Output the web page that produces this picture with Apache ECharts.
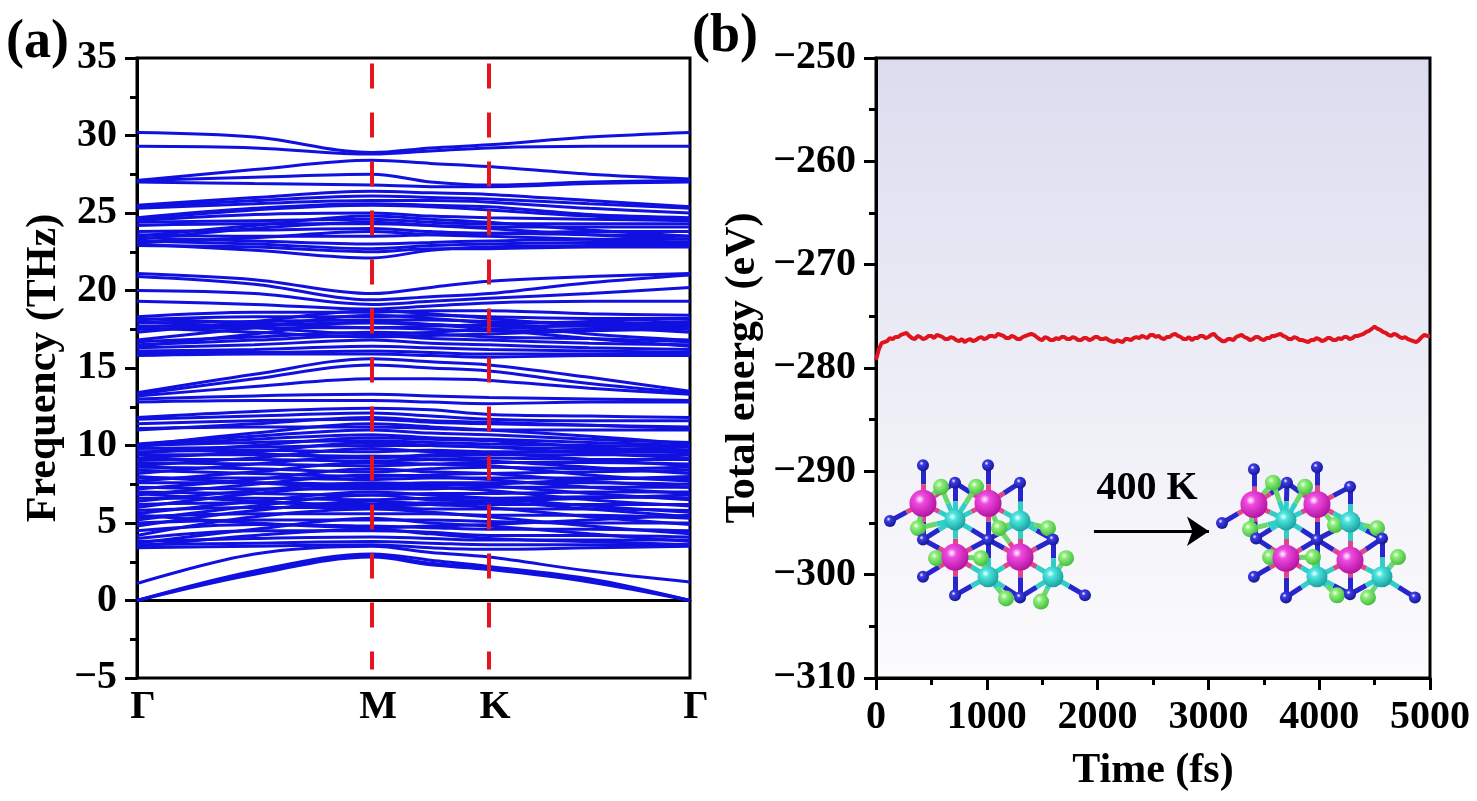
<!DOCTYPE html>
<html>
<head>
<meta charset="utf-8">
<script src="https://cdn.jsdelivr.net/npm/echarts@6/dist/echarts.min.js"></script>
<style>
html, body { margin: 0; padding: 0; background: #fff; }
#main { width: 1477px; height: 801px; }
</style>
</head>
<body>
<div id="main"></div>
<script>
// ---- panel (a): phonon bands ----
var kLabels = ['Γ', 'M', 'K', 'Γ'];
var kPos = [0, 0.425, 0.6365, 1];
// k points where every band is sampled: Γ, ½ΓM, M, ½MK, K, ½KΓ, Γ
var kSample = [0, 0.2125, 0.425, 0.531, 0.6365, 0.818, 1];
var bands = [
  [30.2, 29.9, 28.9, 29.2, 29.4, 29.9, 30.2],
  [29.3, 29.2, 28.8, 29.0, 29.2, 29.3, 29.3],
  [27.1, 27.8, 28.4, 28.2, 28.0, 27.5, 27.2],
  [27.1, 27.3, 27.5, 27.0, 26.8, 27.0, 27.1],
  [27.0, 26.9, 26.8, 26.7, 26.7, 26.9, 27.0],
  [25.5, 26.0, 26.4, 26.3, 26.2, 25.8, 25.4],
  [25.4, 25.8, 26.1, 26.0, 25.9, 25.6, 25.3],
  [25.3, 25.6, 25.8, 25.8, 25.7, 25.3, 25.0],
  [24.7, 25.3, 25.6, 25.5, 25.4, 24.9, 24.7],
  [24.6, 25.2, 25.5, 25.4, 25.2, 24.8, 24.6],
  [24.5, 24.9, 25.0, 24.8, 24.7, 24.6, 24.5],
  [24.4, 24.5, 24.6, 24.4, 24.3, 24.3, 24.3],
  [24.2, 24.3, 24.3, 24.2, 24.1, 24.1, 24.1],
  [23.5, 24.2, 24.8, 24.6, 24.4, 23.9, 23.5],
  [23.3, 24.0, 24.4, 24.2, 24.0, 23.6, 23.3],
  [23.8, 23.9, 24.0, 23.8, 23.7, 23.8, 23.8],
  [23.6, 23.5, 23.5, 23.6, 23.7, 23.6, 23.5],
  [23.1, 23.4, 23.8, 23.6, 23.5, 23.3, 23.1],
  [23.4, 23.2, 23.0, 23.1, 23.2, 23.3, 23.3],
  [23.2, 23.0, 22.7, 22.9, 23.0, 23.1, 23.1],
  [23.0, 22.6, 22.1, 22.6, 22.8, 22.9, 22.9],
  [22.9, 22.8, 22.5, 22.7, 22.7, 22.8, 22.8],
  [21.1, 20.7, 19.8, 20.2, 20.6, 20.9, 21.1],
  [20.9, 20.4, 19.4, 19.6, 19.8, 20.5, 21.0],
  [20.0, 19.8, 19.1, 19.3, 19.5, 19.8, 20.2],
  [19.3, 19.1, 18.8, 19.0, 19.2, 19.3, 19.3],
  [18.3, 18.6, 18.6, 18.7, 18.7, 18.5, 18.4],
  [18.2, 17.9, 17.6, 17.7, 17.8, 18.0, 18.2],
  [18.1, 18.3, 18.3, 18.4, 18.3, 18.2, 18.2],
  [18.0, 17.6, 17.2, 17.3, 17.5, 17.8, 18.0],
  [17.9, 18.0, 18.1, 18.1, 18.0, 17.9, 17.8],
  [17.7, 17.8, 17.9, 17.8, 17.7, 17.7, 17.7],
  [17.6, 17.3, 17.0, 17.1, 17.2, 17.4, 17.5],
  [17.5, 17.6, 17.6, 17.5, 17.4, 17.5, 17.6],
  [17.3, 18.0, 18.7, 18.5, 18.2, 17.7, 17.3],
  [16.8, 17.6, 18.4, 18.2, 17.9, 17.2, 16.8],
  [16.4, 17.2, 18.0, 17.8, 17.5, 16.9, 16.4],
  [16.7, 17.0, 17.3, 17.2, 17.0, 16.9, 16.7],
  [16.5, 16.8, 17.1, 16.9, 16.8, 16.6, 16.5],
  [16.3, 16.5, 16.8, 16.6, 16.5, 16.3, 16.2],
  [16.1, 16.2, 16.4, 16.3, 16.2, 16.1, 16.0],
  [16.0, 16.0, 16.1, 16.0, 15.9, 15.9, 15.9],
  [15.8, 15.9, 15.9, 15.8, 15.7, 15.8, 15.8],
  [13.4, 14.6, 15.6, 15.4, 15.2, 14.4, 13.5],
  [13.3, 14.3, 15.2, 15.0, 14.8, 14.0, 13.4],
  [13.2, 13.8, 14.3, 14.3, 14.2, 13.7, 13.3],
  [13.0, 13.2, 13.3, 13.2, 13.1, 13.0, 12.9],
  [12.8, 12.9, 12.9, 12.8, 12.7, 12.8, 12.8],
  [11.8, 12.2, 12.4, 12.3, 12.0, 11.9, 11.8],
  [11.7, 11.9, 12.1, 11.9, 11.7, 11.6, 11.6],
  [11.4, 11.6, 11.7, 11.5, 11.4, 11.3, 11.2],
  [11.1, 11.2, 11.2, 11.1, 11.0, 11.0, 11.0],
  [11.0, 11.4, 11.8, 11.6, 11.5, 11.3, 11.1],
  [10.1, 10.6, 11.0, 10.8, 10.7, 10.4, 10.2],
  [10.0, 10.8, 11.4, 11.2, 11.0, 10.6, 10.1],
  [10.0, 10.4, 10.7, 10.5, 10.4, 10.2, 10.0],
  [10.0, 10.2, 10.3, 10.2, 10.1, 10.0, 9.9],
  [9.9, 9.5, 9.2, 9.4, 9.5, 9.7, 9.9],
  [9.8, 9.9, 10.0, 10.0, 9.9, 9.8, 9.7],
  [9.6, 9.7, 9.6, 9.7, 9.6, 9.6, 9.6],
  [9.5, 10.0, 10.5, 10.4, 10.3, 9.9, 9.5],
  [9.4, 9.4, 9.3, 9.3, 9.4, 9.4, 9.4],
  [9.2, 9.6, 10.2, 10.0, 9.9, 9.5, 9.2],
  [9.1, 9.1, 9.0, 9.1, 9.2, 9.1, 9.1],
  [8.9, 8.8, 8.7, 8.8, 8.9, 8.9, 8.8],
  [8.7, 9.2, 9.8, 9.6, 9.5, 9.1, 8.7],
  [8.6, 8.5, 8.3, 8.5, 8.6, 8.5, 8.6],
  [8.4, 8.2, 8.0, 8.1, 8.2, 8.3, 8.4],
  [8.2, 8.8, 9.3, 9.1, 9.0, 8.6, 8.2],
  [8.0, 7.6, 7.3, 7.4, 7.5, 7.8, 8.0],
  [7.9, 7.9, 7.8, 7.9, 7.9, 7.9, 7.8],
  [7.7, 8.3, 8.9, 8.8, 8.7, 8.1, 7.7],
  [7.6, 7.6, 7.5, 7.6, 7.6, 7.6, 7.5],
  [7.3, 7.2, 7.2, 7.2, 7.3, 7.3, 7.3],
  [7.2, 7.8, 8.5, 8.3, 8.2, 7.7, 7.3],
  [7.0, 6.9, 6.8, 6.9, 6.9, 7.0, 7.0],
  [6.9, 6.4, 6.1, 6.2, 6.4, 6.6, 6.8],
  [6.8, 7.5, 8.1, 8.0, 7.8, 7.3, 6.9],
  [6.6, 6.6, 6.5, 6.6, 6.6, 6.7, 6.6],
  [6.4, 7.1, 7.6, 7.5, 7.4, 6.9, 6.5],
  [6.2, 6.3, 6.2, 6.3, 6.2, 6.2, 6.2],
  [6.0, 6.9, 7.4, 7.3, 7.1, 6.5, 6.1],
  [5.8, 6.0, 6.0, 5.9, 5.9, 5.9, 5.8],
  [5.6, 6.4, 7.0, 6.8, 6.6, 6.1, 5.7],
  [5.5, 5.0, 4.7, 4.8, 4.9, 5.2, 5.5],
  [5.4, 5.6, 5.6, 5.6, 5.5, 5.5, 5.3],
  [5.2, 6.1, 6.8, 6.5, 6.4, 5.9, 5.4],
  [5.0, 5.2, 5.2, 5.2, 5.1, 5.0, 5.0],
  [4.8, 5.8, 6.4, 6.2, 6.0, 5.4, 4.9],
  [4.5, 4.9, 4.8, 4.7, 4.6, 4.6, 4.5],
  [4.2, 5.4, 5.9, 5.7, 5.4, 4.8, 4.3],
  [4.0, 4.5, 4.5, 4.4, 4.2, 4.2, 4.1],
  [3.8, 4.0, 4.1, 4.0, 3.9, 3.9, 3.9],
  [3.7, 4.6, 5.3, 5.0, 4.8, 4.3, 3.8],
  [3.6, 3.7, 3.8, 3.7, 3.6, 3.6, 3.6],
  [3.5, 4.2, 4.6, 4.3, 4.0, 3.8, 3.6],
  [3.4, 3.5, 3.6, 3.4, 3.3, 3.4, 3.5],
  [1.1, 3.0, 3.5, 3.1, 2.8, 1.9, 1.2],
  [0.0, 1.9, 3.0, 2.6, 2.2, 1.4, 0.0],
  [0.0, 1.8, 2.9, 2.4, 2.1, 1.3, 0.0],
  [0.0, 1.7, 2.8, 2.3, 2.0, 1.2, 0.0]
];

// ---- panel (b): AIMD total energy ----
var timeStep = 25; // fs between samples
var energy = [
  -279.2, -278.2, -277.6, -277.5, -277.4, -277.1, -277.2, -277.0, -277.0, -276.8,
  -276.7, -276.6, -276.9, -277.1, -277.2, -276.9, -277.0, -277.2, -277.1, -276.9,
  -276.9, -277.1, -276.8, -276.9, -277.0, -277.2, -277.2, -277.0, -277.1, -277.3,
  -277.4, -277.2, -277.5, -277.3, -277.2, -277.4, -277.3, -277.1, -277.0, -277.2,
  -277.1, -276.9, -276.9, -277.0, -276.7, -276.8, -276.9, -277.1, -277.1, -276.9,
  -277.0, -277.2, -277.2, -277.0, -276.9, -276.8, -276.7, -276.8, -277.0, -277.2,
  -277.3, -277.0, -277.1, -277.3, -277.3, -277.1, -277.2, -277.0, -277.0, -277.2,
  -277.2, -277.0, -277.1, -277.3, -277.3, -277.1, -277.1, -277.3, -277.2, -277.0,
  -277.0, -277.2, -277.2, -277.1, -277.3, -277.4, -277.5, -277.3, -277.4, -277.5,
  -277.2, -277.2, -277.3, -277.1, -277.0, -277.1, -276.9, -277.0, -277.1, -276.8,
  -276.8, -277.0, -276.9, -277.1, -277.2, -277.0, -277.0, -276.8, -276.7, -276.9,
  -277.0, -277.2, -277.2, -277.0, -277.3, -277.1, -277.1, -276.9, -276.9, -277.1,
  -277.0, -276.8, -276.7, -277.0, -277.2, -277.4, -277.4, -277.2, -277.2, -277.3,
  -277.0, -276.9, -276.8, -277.0, -277.1, -277.3, -277.2, -277.0, -277.0, -277.2,
  -277.3, -277.1, -277.1, -276.9, -276.9, -276.8, -276.7, -276.9, -277.0, -277.2,
  -277.2, -277.0, -277.1, -277.3, -277.3, -277.4, -277.5, -277.3, -277.3, -277.1,
  -277.2, -277.4, -277.3, -277.1, -277.1, -277.3, -277.3, -277.1, -277.2, -277.0,
  -277.0, -277.2, -277.1, -276.9, -276.9, -276.8, -276.7, -276.5, -276.4, -276.2,
  -276.0, -276.2, -276.3, -276.5, -276.6, -276.8, -276.9, -276.7, -276.8, -277.0,
  -277.1, -277.0, -277.2, -277.3, -277.4, -277.5, -277.3, -277.0, -276.8, -276.9,
  -276.9
];

// inset structures, atom positions in (fs, eV) of panel (b)
var atomsN = [
  [424, -289.4], [1011, -289.4], [713, -291.1], [1300, -291.1], [126, -294.8], [424, -296.6],
  [1011, -296.6], [1597, -296.6], [424, -300.2], [713, -302.0], [1300, -302.2], [1886, -302.0],
  [3411, -289.8], [3980, -289.6], [3709, -291.1], [4278, -291.5], [3123, -295.0], [3430, -296.5],
  [3980, -296.6], [4567, -296.5], [3411, -300.2], [3700, -302.2], [4278, -301.9], [4864, -302.2]
];
var atomsTi = [
  [424, -293.1], [1011, -293.1], [713, -298.3], [1300, -298.3],
  [3411, -293.2], [3980, -293.2], [3700, -298.4], [4278, -298.6]
];
var atomsX = [
  [713, -294.7], [1300, -294.8], [1011, -300.2], [1597, -300.2],
  [3700, -294.7], [4278, -294.9], [3980, -300.2], [4567, -300.2]
];
var atomsCl = [
  [587, -291.5], [903, -291.5], [379, -295.5], [1110, -295.5], [1552, -295.5],
  [542, -298.4], [948, -298.4], [1715, -298.4], [1173, -302.3], [1489, -302.6],
  [3583, -291.1], [3872, -291.5], [3375, -295.6], [4142, -295.2], [4522, -295.5],
  [3556, -298.3], [3944, -298.3], [4711, -298.3], [4161, -302.0], [4440, -302.2]
];
var arrowFrom = [1967, -295.8];
var arrowTo = [3005, -295.8];
var tempLabel = [2446, -291.7];

var font = 'Liberation Serif';
var black = '#000';
function minus(v) { return String(v).replace('-', '\u2212'); }

var chart = echarts.init(document.getElementById('main'));

var series = [];
bands.forEach(function (b) {
  series.push({
    type: 'line', xAxisIndex: 0, yAxisIndex: 0,
    data: b.map(function (f, i) { return [kSample[i], f]; }),
    smooth: 0.35, symbol: 'none', silent: true,
    lineStyle: { color: '#1010e0', width: 3 }, z: 2
  });
});
// dashed guides at M and K
[kPos[1], kPos[2]].forEach(function (k) {
  series.push({
    type: 'line', xAxisIndex: 0, yAxisIndex: 0,
    data: [[k, 34.65], [k, -4.45]], symbol: 'none', silent: true,
    lineStyle: { color: '#e5141e', width: 4, type: [25, 24] }, z: 5
  });
});

// energy trace
series.push({
  type: 'line', xAxisIndex: 1, yAxisIndex: 1,
  data: energy.map(function (e, i) { return [i * timeStep, e]; }),
  symbol: 'none', silent: true,
  lineStyle: { color: '#e0141c', width: 4 }, z: 3
});

// bonds between neighbouring atoms (half coloured by each end)
var pxPerFs = 554 / 5000, pxPerEv = 620 / 60;
var kinds = [
  { k: 'N', list: atomsN, bond: '#2626cc' },
  { k: 'T', list: atomsTi, bond: '#e0458a' },
  { k: 'X', list: atomsX, bond: '#30cfc6' },
  { k: 'C', list: atomsCl, bond: '#6ad86a' }
];
var cut = { NT: 42, NX: 42, TX: 42, CX: 40, CT: 36 };
var all = [];
kinds.forEach(function (g) { g.list.forEach(function (p) { all.push({ p: p, k: g.k, c: g.bond }); }); });
var bondData = [];
for (var i = 0; i < all.length; i++) {
  for (var j = i + 1; j < all.length; j++) {
    var a = all[i], b = all[j];
    var lim = cut[a.k + b.k] || cut[b.k + a.k];
    if (!lim) continue;
    var d = Math.hypot((a.p[0] - b.p[0]) * pxPerFs, (a.p[1] - b.p[1]) * pxPerEv);
    if (d > lim) continue;
    var mid = [(a.p[0] + b.p[0]) / 2, (a.p[1] + b.p[1]) / 2];
    bondData.push({ coords: [a.p, mid], lineStyle: { color: a.c } });
    bondData.push({ coords: [mid, b.p], lineStyle: { color: b.c } });
  }
}
series.push({
  type: 'lines', coordinateSystem: 'cartesian2d', xAxisIndex: 1, yAxisIndex: 1,
  data: bondData, silent: true, lineStyle: { width: 5, opacity: 1 }, z: 6
});

function ball(c1, c2) {
  return { type: 'radial', x: 0.38, y: 0.35, r: 0.7,
    colorStops: [{ offset: 0, color: '#ffffff' }, { offset: 0.25, color: c1 }, { offset: 1, color: c2 }] };
}
[
  [atomsCl, 16, ball('#8ef07a', '#3fb83a')],
  [atomsTi, 27, ball('#f04ae0', '#b0109e')],
  [atomsX, 21, ball('#4de6e0', '#179c9a')],
  [atomsN, 12, ball('#3c3ce6', '#14148c')]
].forEach(function (s, idx) {
  series.push({
    type: 'scatter', xAxisIndex: 1, yAxisIndex: 1, data: s[0], symbolSize: s[1],
    silent: true, itemStyle: { color: s[2], opacity: 1 }, z: 7 + idx
  });
});

// heating arrow and label
series.push({
  type: 'lines', coordinateSystem: 'cartesian2d', xAxisIndex: 1, yAxisIndex: 1,
  data: [{ coords: [arrowFrom, arrowTo] }], silent: true,
  symbol: ['none', 'arrow'], symbolSize: 22,
  lineStyle: { color: black, width: 3, opacity: 1 }, z: 12
});
series.push({
  type: 'scatter', xAxisIndex: 1, yAxisIndex: 1, data: [tempLabel], symbolSize: 0,
  silent: true, z: 12, itemStyle: { opacity: 1 },
  label: { show: true, position: 'inside', formatter: '400 K', color: black,
    textBorderWidth: 0, fontFamily: font, fontWeight: 'bold', fontSize: 40 }
});

var tickStyle = { color: black, width: 3 };
var labelStyle = { color: black, fontFamily: font, fontWeight: 'bold', fontSize: 40 };
var nameStyle = { color: black, fontFamily: font, fontWeight: 'bold', fontSize: 42 };

var option = {
  animation: false,
  backgroundColor: '#fff',
  grid: [
    { left: 137, top: 58, width: 553, height: 620, show: true,
      borderColor: black, borderWidth: 3, backgroundColor: '#fff' },
    { left: 876, top: 58, width: 554, height: 620, show: true,
      borderColor: black, borderWidth: 3,
      backgroundColor: new echarts.graphic.LinearGradient(0, 0, 0, 1, [
        { offset: 0, color: '#dcdcf0' },
        { offset: 0.55, color: '#eeeef6' },
        { offset: 1, color: '#fcfcfe' }
      ]) }
  ],
  xAxis: [
    { gridIndex: 0, type: 'value', min: 0, max: 1,
      axisLine: { lineStyle: tickStyle }, axisTick: { show: false },
      splitLine: { show: false },
      axisLabel: Object.assign({ customValues: kPos, margin: 10, padding: [0, 0, 0, 12],
        formatter: function (v) { return kLabels[kPos.indexOf(v)] || ''; } }, labelStyle) },
    { gridIndex: 1, type: 'value', min: 0, max: 5000, interval: 1000,
      axisLine: { lineStyle: tickStyle },
      axisTick: { length: 12, lineStyle: tickStyle },
      minorTick: { show: true, splitNumber: 2, length: 7, lineStyle: tickStyle },
      splitLine: { show: false },
      axisLabel: Object.assign({ margin: 20, formatter: function (v) { return String(v); } }, labelStyle),
      name: 'Time (fs)', nameLocation: 'middle', nameGap: 72, nameTextStyle: nameStyle }
  ],
  yAxis: [
    { gridIndex: 0, type: 'value', min: -5, max: 35, interval: 5,
      axisLine: { show: true, lineStyle: tickStyle },
      axisTick: { show: true, length: 12, lineStyle: tickStyle },
      minorTick: { show: true, splitNumber: 2, length: 7, lineStyle: tickStyle },
      splitLine: { show: false },
      axisLabel: Object.assign({ margin: 20, formatter: minus }, labelStyle),
      name: 'Frequency (THz)', nameLocation: 'middle', nameGap: 72, nameTextStyle: nameStyle },
    { gridIndex: 1, type: 'value', min: -310, max: -250, interval: 10,
      axisLine: { show: true, lineStyle: tickStyle },
      axisTick: { show: true, length: 12, lineStyle: tickStyle },
      minorTick: { show: true, splitNumber: 2, length: 7, lineStyle: tickStyle },
      splitLine: { show: false },
      axisLabel: Object.assign({ margin: 20, formatter: minus }, labelStyle),
      name: 'Total energy (eV)', nameLocation: 'middle', nameGap: 112, nameTextStyle: nameStyle }
  ],
  graphic: [
    { type: 'text', left: 6, top: 16, style: { text: '(a)', fill: black,
      font: 'bold 54px "Liberation Serif"' } },
    { type: 'text', left: 692, top: 10, style: { text: '(b)', fill: black,
      font: 'bold 54px "Liberation Serif"' } }
  ],
  series: series
};
chart.setOption(option);
</script>
</body>
</html>
